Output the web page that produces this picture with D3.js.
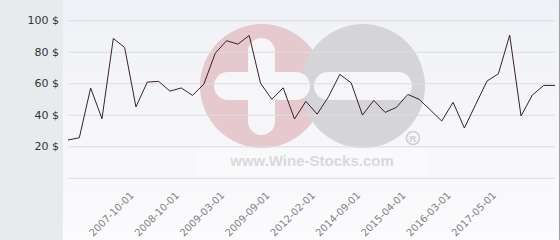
<!DOCTYPE html>
<html>
<head>
<meta charset="utf-8">
<script src="https://cdn.jsdelivr.net/npm/d3@7"></script>
<style>
  html, body { margin: 0; padding: 0; background: #fff; }
  svg { display: block; font-family: "DejaVu Sans", sans-serif; }
</style>
</head>
<body>
<div id="chart"></div>
<script>
// prices per point
const prices = [24, 25.4, 57, 37.5, 88.4, 82.7, 45, 60.7, 61.2, 55,
  57, 52.3, 59.5, 79, 87, 84.8, 90.3, 60, 49.8, 57.1,
  37.3, 48.5, 40.4, 51.4, 65.6, 60.3, 39.8, 49.1, 41.5, 44.7,
  52.9, 49.8, 43, 36, 47.9, 31.6, 46.6, 61.4, 66, 90.5,
  39.2, 52.5, 58.6, 58.6];
const dateTickIndex = [6, 10, 14, 18, 22, 26, 30, 34, 38];
const dateTickLabels = ['2007-10-01', '2008-10-01', '2009-03-01', '2009-09-01', '2012-02-01',
  '2014-09-01', '2015-04-01', '2016-03-01', '2017-05-01'];
const yTicks = [20, 40, 60, 80, 100];
const yGrid = [0, 20, 40, 60, 80, 100];

const W = 560, H = 240;
const svg = d3.select('#chart').append('svg').attr('width', W).attr('height', H);

const defs = svg.append('defs');
const grad = defs.append('linearGradient').attr('id', 'bg').attr('x1', 0).attr('y1', 0).attr('x2', 0).attr('y2', 1);
grad.append('stop').attr('offset', '0%').attr('stop-color', '#f0f1f6');
grad.append('stop').attr('offset', '100%').attr('stop-color', '#fbfbfd');

// left band + plot background
svg.append('rect').attr('x', 0).attr('y', 0).attr('width', 63).attr('height', H).attr('fill', '#e7ebee');
svg.append('rect').attr('x', 63).attr('y', 0).attr('width', 496).attr('height', H).attr('fill', 'url(#bg)');
svg.append('line').attr('x1', 559.5).attr('x2', 559.5).attr('y1', 0).attr('y2', H).attr('stroke', '#a0a0a4');

const x = d3.scaleLinear().domain([0, prices.length - 1]).range([68, 555]);
const y = d3.scaleLinear().domain([0, 100]).range([177.8, 20.2]);

// watermark
const wm = svg.append('g');
const cy = 86;
wm.append('circle').attr('cx', 262).attr('cy', cy).attr('r', 62).attr('fill', '#e6c8cf');
wm.append('circle').attr('cx', 363).attr('cy', cy).attr('r', 62).attr('fill', '#d5d5d7');
wm.append('rect').attr('x', 214).attr('y', cy - 14).attr('width', 96).attr('height', 28).attr('rx', 14).attr('fill', '#f6f6f9');
wm.append('rect').attr('x', 248).attr('y', 38).attr('width', 27).attr('height', 97).attr('rx', 13.5).attr('fill', '#f6f6f9');
wm.append('rect').attr('x', 314).attr('y', cy - 14).attr('width', 98).attr('height', 28).attr('rx', 14).attr('fill', '#f6f6f9');
wm.append('rect').attr('x', 197).attr('y', 149).attr('width', 230).attr('height', 25).attr('fill', '#fff').attr('opacity', 0.3);
wm.append('text').attr('x', 312).attr('y', 166).attr('text-anchor', 'middle')
  .attr('font-family', '"Liberation Sans", Arial, sans-serif').attr('font-weight', 'bold')
  .attr('font-size', 15).attr('fill', '#d9d9db').text('www.Wine-Stocks.com');
wm.append('circle').attr('cx', 413).attr('cy', 138).attr('r', 6.5).attr('fill', 'none').attr('stroke', '#cfcfd2').attr('stroke-width', 1.5);
wm.append('text').attr('x', 413).attr('y', 141.5).attr('text-anchor', 'middle')
  .attr('font-family', '"Liberation Sans", Arial, sans-serif').attr('font-weight', 'bold')
  .attr('font-size', 9.5).attr('fill', '#cfcfd2').text('R');

// gridlines
const grid = svg.append('g').attr('transform', 'translate(68,0)')
  .call(d3.axisLeft(y).tickValues(yGrid).tickSize(-(555 - 68)).tickFormat(''));
grid.select('.domain').remove();
grid.selectAll('line').attr('stroke', '#dcdde0');

// y labels
const ya = svg.append('g').attr('transform', 'translate(62,0)')
  .call(d3.axisLeft(y).tickValues(yTicks).tickSize(0).tickPadding(3).tickFormat(d => d + ' $'));
ya.select('.domain').remove();
ya.selectAll('text').attr('font-size', 11).attr('fill', '#333').attr('font-family', '"DejaVu Sans", sans-serif');

// x labels
const xa = svg.append('g').attr('transform', 'translate(0,178)')
  .call(d3.axisBottom(x).tickValues(dateTickIndex).tickSize(0)
    .tickFormat((d, i) => dateTickLabels[i]));
xa.select('.domain').remove();
xa.selectAll('text')
  .attr('font-size', 10).attr('fill', '#808080').attr('font-family', '"DejaVu Sans", sans-serif')
  .attr('text-anchor', 'end').attr('dy', 0).attr('y', 0)
  .attr('transform', 'translate(-2,18) rotate(-45)');

// price line
svg.append('path').datum(prices)
  .attr('fill', 'none').attr('stroke', '#3a1f2c').attr('stroke-width', 1)
  .attr('d', d3.line().x((d, i) => x(i)).y(d => y(d)));
</script>
</body>
</html>
